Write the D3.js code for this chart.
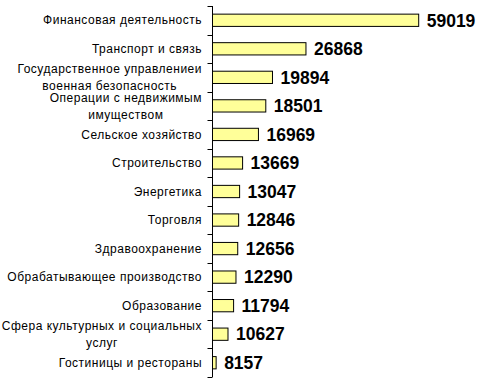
<!DOCTYPE html>
<html>
<head>
<meta charset="utf-8">
<script src="https://cdn.jsdelivr.net/npm/d3@7"></script>
<style>
  body { margin: 0; background: #fff; }
  svg { display: block; font-family: "Liberation Sans", Arial, sans-serif; }
</style>
</head>
<body>
<svg id="chart" width="478" height="388"></svg>
<script>
// categories top to bottom, each label split into its lines
var categories = [
    ["Финансовая деятельность"],
    ["Транспорт и связь"],
    ["Государственное управлениеи", "военная безопасность"],
    ["Операции с недвижимым", "имуществом"],
    ["Сельское хозяйство"],
    ["Строительство"],
    ["Энергетика"],
    ["Торговля"],
    ["Здравоохранение"],
    ["Обрабатывающее производство"],
    ["Образование"],
    ["Сфера культурных и социальных", "услуг"],
    ["Гостиницы и рестораны"]
];
var values = [59019, 26868, 19894, 18501, 16969, 13669, 13047, 12846, 12656, 12290, 11794, 10627, 8157];

var axisX = 212.5, plotTop = 6, plotBottom = 377;

var svg = d3.select("#chart");

var y = d3.scaleBand()
    .domain(d3.range(values.length))
    .range([plotTop, plotBottom])
    .paddingInner(0.57)
    .paddingOuter(0.285);

// the original axis is squeezed past 30000
var x = d3.scaleLinear()
    .domain([7400, 30000, 60000])
    .range([axisX, axisX + 108.5, axisX + 209.5]);

var rows = svg.selectAll(".row")
    .data(values)
    .enter().append("g")
    .attr("class", "row");

rows.append("rect")
    .attr("x", axisX)
    .attr("y", function(d, i) { return y(i); })
    .attr("width", function(d) { return x(d) - axisX; })
    .attr("height", y.bandwidth())
    .attr("fill", "#ffff99")
    .attr("stroke", "#000")
    .attr("stroke-width", 1);

rows.append("text")
    .attr("x", function(d) { return x(d) + 8; })
    .attr("y", function(d, i) { return y(i) + y.bandwidth() / 2; })
    .attr("dy", "0.36em")
    .attr("font-size", 17.5)
    .attr("font-weight", "bold")
    .attr("fill", "#000")
    .text(function(d) { return d; });

// category labels: multi-line blocks are centred on their own widest line
var labels = svg.append("g");
categories.forEach(function(lines, i) {
    var cy = y(i) + y.bandwidth() / 2;
    var g = labels.append("g");
    var lh = 17;
    var texts = lines.map(function(s, k) {
        return g.append("text")
            .attr("y", cy + (k - (lines.length - 1) / 2) * lh)
            .attr("dy", "0.35em")
            .attr("font-size", 12)
            .attr("letter-spacing", 0.5)
            .attr("fill", "#000")
            .text(s);
    });
    var wmax = d3.max(texts, function(t) { return t.node().getComputedTextLength(); });
    var right = 202;
    texts.forEach(function(t) {
        t.attr("x", right - wmax / 2).attr("text-anchor", "middle");
    });
});

// axis with outside ticks between the bands
var axis = svg.append("g");
axis.append("line")
    .attr("x1", axisX).attr("x2", axisX)
    .attr("y1", plotTop).attr("y2", plotBottom)
    .attr("stroke", "#000");
d3.range(values.length + 1).forEach(function(i) {
    var ty = Math.round(plotTop + i * y.step()) + 0.5;
    axis.append("line")
        .attr("x1", axisX - 5).attr("x2", axisX)
        .attr("y1", ty).attr("y2", ty)
        .attr("stroke", "#000");
});
</script>
</body>
</html>
